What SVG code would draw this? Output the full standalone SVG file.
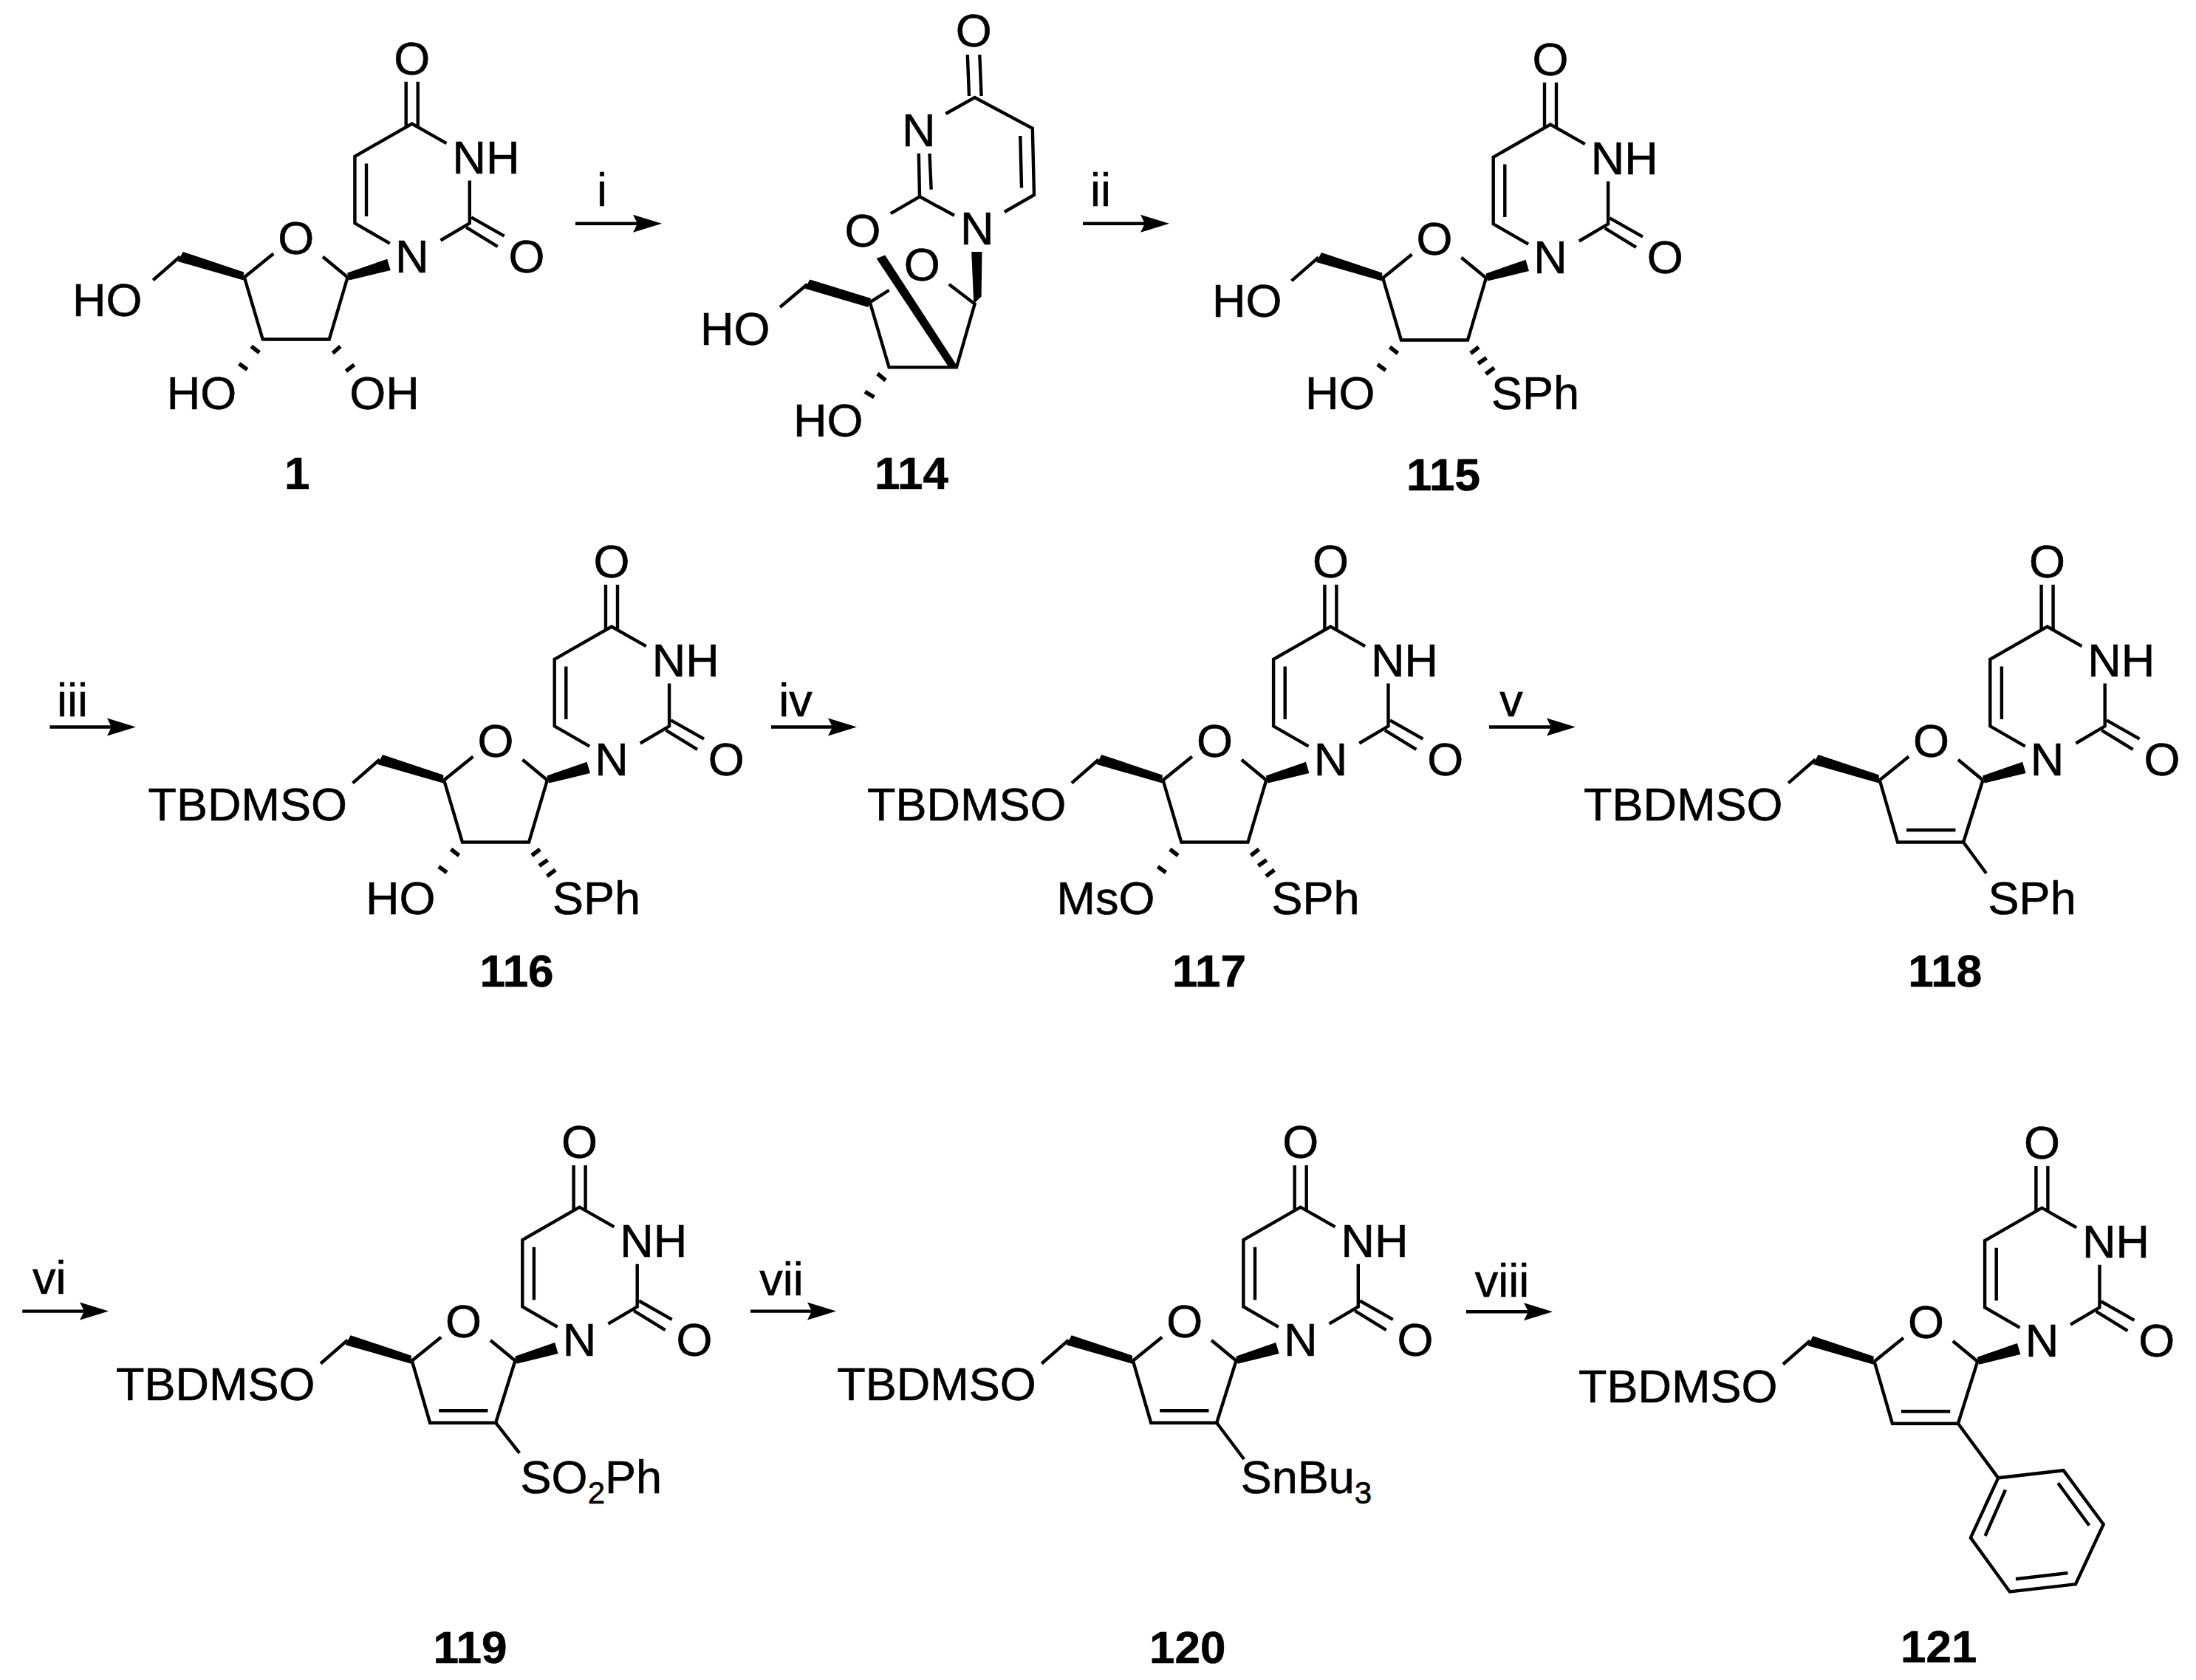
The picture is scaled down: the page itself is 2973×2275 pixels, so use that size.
<svg xmlns="http://www.w3.org/2000/svg" xmlns:xlink="http://www.w3.org/1999/xlink" width="2973" height="2275" viewBox="0 0 2973 2275">
<style>
.b{fill:none;stroke:#000;stroke-width:4.4}
.h{fill:none;stroke:#000;stroke-width:5.5}
.w{fill:#000;stroke:none}
text{font-family:"Liberation Sans",Arial,sans-serif;font-size:63px;fill:#000;stroke:#000;stroke-width:.6}
.m{text-anchor:middle}
.l{font-weight:bold;font-size:62px;text-anchor:middle}
.s{font-size:42px}
.a{fill:none;stroke:#000;stroke-width:4.4;marker-end:url(#ah)}
</style>
<defs>
<marker id="ah" markerUnits="userSpaceOnUse" markerWidth="40" markerHeight="26" refX="6" refY="13" orient="auto"><path d="M0,1 L39,13 L0,25 L6,13Z" fill="#000"/></marker>
<g id="core">
<path class="b" d="M-8,-235.7V-175M8,-235.7V-175M46.8,-152.4L0,-179L-77.3,-134.7V-44.2L-29.9,-16.8M-61.7,-125V-53.5M78.1,-101.9V-44.2L38.8,-21M80.4,-52.2L125,-26.9M73.6,-38.7L116,-12.6"/>
<path class="b" d="M-87,29L-120.6,1.3M-227,29L-187.5,-3M-314,1L-350.5,32.8"/>
<polygon class="w" points="-87.5,23 -33.5,4.2 -29,19.4 -85,33"/>
<polygon class="w" points="-227.7,22 -310,-5.5 -317,7.5 -228,33"/>
</g>
<path id="sat" class="b" d="M-227,28.5L-202,113H-112L-87,28.5"/>
<path id="unsat" class="b" d="M-227,28.5L-202.5,113H-113.5L-87,28.5M-190.5,96.5H-124.2"/>
<path id="hC3" class="h" d="M-217.5,122.5L-206.5,131M-234,146L-223,154"/>
<path id="hSPh" class="h" d="M-108,131L-97,122.5M-98,145L-86.5,137M-87.5,159L-76,150.5"/>
</defs>

<g id="connectors">
<path class="a" d="M779,302.7H863"/>
<path class="a" d="M1466,302.8H1550"/>
<path class="a" d="M67.4,984.5H151"/>
<path class="a" d="M1044,984.5H1127"/>
<path class="a" d="M2016,984.5H2100"/>
<path class="a" d="M30.2,1775.6H114"/>
<path class="a" d="M1016,1775.6H1099"/>
<path class="a" d="M1985,1776.3H2069"/>
<text class="m" x="815" y="279">i</text>
<text class="m" x="1490" y="279">ii</text>
<text class="m" x="98" y="970">iii</text>
<text class="m" x="1077" y="970">iv</text>
<text class="m" x="2046" y="970">v</text>
<text class="m" x="66.7" y="1752">vi</text>
<text class="m" x="1058" y="1754">vii</text>
<text class="m" x="2033.5" y="1755.5">viii</text>
</g>

<g id="c1">
<g transform="translate(557.7,346.5)">
<use href="#core"/><use href="#sat"/><use href="#hC3"/>
<path class="h" d="M-107.2,131.7L-96.9,122.5M-89.3,156.1L-78.1,147.3"/>
<text class="m" y="-246">O</text><text x="54.7" y="-111.5">NH</text><text class="m" y="22.5">N</text><text class="m" x="155.3" y="22">O</text><text class="m" x="-157" y="-3">O</text>
<text x="-459.7" y="81">HO</text><text x="-332" y="207.5">HO</text><text x="-84.5" y="207.5">OH</text>
</g>
<text class="l" x="402.3" y="662">1</text>
</g>

<g id="c114">
<path class="b" d="M1309.8,74L1312,130M1326.3,74L1328.6,130M1280.4,154L1319.6,132L1397.8,173.9L1400,264L1359.8,287M1381.3,184L1383,254.4M1243.8,207.8L1245,266.3L1292,291.8M1258.5,207.8L1260.7,256.6M1245,266.3L1205.8,289.2"/>
<polygon class="w" points="1186.6,350 1198.2,345.5 1296.4,496.5 1283.9,496.5"/>
<polygon class="w" points="1315.2,341 1329.5,341 1328.6,401.4 1318.3,411.5"/>
<path class="b" d="M1284.8,385L1319.6,411.5L1295,497.4H1203.6L1177.7,409.3L1203.6,393M1092.9,385L1056,416"/>
<polygon class="w" points="1179,404 1096.4,378.5 1089.7,390.8 1175.5,416"/>
<path class="h" d="M1188,506L1199,515M1171,530.4L1183.5,537.9"/>
<text class="m" x="1318.3" y="63">O</text><text class="m" x="1243.8" y="198">N</text><text class="m" x="1322.8" y="331">N</text><text class="m" x="1167.9" y="334">O</text><text class="m" x="1248.2" y="380">O</text>
<text x="948" y="466.5">HO</text><text x="1074" y="591">HO</text>
<text class="l" x="1234" y="662">114</text>
</g>

<g id="c115">
<g transform="translate(2099,347.5)">
<use href="#core"/><use href="#sat"/><use href="#hC3"/><use href="#hSPh"/>
<text class="m" y="-246">O</text><text x="54.7" y="-111.5">NH</text><text class="m" y="22.5">N</text><text class="m" x="155.3" y="22">O</text><text class="m" x="-157" y="-3">O</text>
<text x="-458" y="81">HO</text><text x="-332" y="206.5">HO</text><text x="-80" y="206.5">SPh</text>
</g>
<text class="l" x="1954" y="664">115</text>
</g>

<g id="c116">
<g transform="translate(828,1027.5)">
<use href="#core"/><use href="#sat"/><use href="#hC3"/><use href="#hSPh"/>
<text class="m" y="-246">O</text><text x="54.7" y="-111.5">NH</text><text class="m" y="22.5">N</text><text class="m" x="155.3" y="22">O</text><text class="m" x="-157" y="-3">O</text>
<text x="-627.5" y="83">TBDMSO</text><text x="-333" y="210">HO</text><text x="-80" y="210">SPh</text>
</g>
<text class="l" x="699.6" y="1336">116</text>
</g>

<g id="c117">
<g transform="translate(1801.4,1027.5)">
<use href="#core"/><use href="#sat"/><use href="#hC3"/><use href="#hSPh"/>
<text class="m" y="-246">O</text><text x="54.7" y="-111.5">NH</text><text class="m" y="22.5">N</text><text class="m" x="155.3" y="22">O</text><text class="m" x="-157" y="-3">O</text>
<text x="-627.5" y="83">TBDMSO</text><text x="-371" y="210">MsO</text><text x="-80" y="210">SPh</text>
</g>
<text class="l" x="1637" y="1336">117</text>
</g>

<g id="c118">
<g transform="translate(2771.6,1027.5)">
<use href="#core"/><use href="#unsat"/>
<path class="b" d="M-113.5,113L-82.6,155"/>
<text class="m" y="-246">O</text><text x="54.7" y="-111.5">NH</text><text class="m" y="22.5">N</text><text class="m" x="155.3" y="22">O</text><text class="m" x="-157" y="-3">O</text>
<text x="-627.5" y="83">TBDMSO</text><text x="-80" y="210">SPh</text>
</g>
<text class="l" x="2633.2" y="1336">118</text>
</g>

<g id="c119">
<g transform="translate(784.6,1813.7)">
<use href="#core"/><use href="#unsat"/>
<path class="b" d="M-113.5,113L-81.4,154"/>
<text class="m" y="-246">O</text><text x="54.7" y="-111.5">NH</text><text class="m" y="22.5">N</text><text class="m" x="155.3" y="22">O</text><text class="m" x="-157" y="-3">O</text>
<text x="-627.5" y="82">TBDMSO</text><text x="-80" y="208">SO<tspan class="s" dy="14">2</tspan><tspan dy="-14">Ph</tspan></text>
</g>
<text class="l" x="636.5" y="2251.8">119</text>
</g>

<g id="c120">
<g transform="translate(1760.7,1813.7)">
<use href="#core"/><use href="#unsat"/>
<path class="b" d="M-113.5,113L-76.5,162.3"/>
<text class="m" y="-246">O</text><text x="54.7" y="-111.5">NH</text><text class="m" y="22.5">N</text><text class="m" x="155.3" y="22">O</text><text class="m" x="-157" y="-3">O</text>
<text x="-627.5" y="82">TBDMSO</text><text x="-81" y="208">SnBu<tspan class="s" dy="14">3</tspan></text>
</g>
<text class="l" x="1607.7" y="2251.8">120</text>
</g>

<g id="c121">
<g transform="translate(2764.4,1814.7)">
<use href="#core"/><use href="#unsat"/>
<path class="b" d="M-113.5,113L-59.2,186.6L29.2,176.5L83.3,249.5L45.6,330.6L-43.5,340.8L-96.5,267.7L-59.2,186.6M-49.4,202.8L-76.8,265.2M21.9,193.7L64,251M35.1,315.4L-35.4,323.5"/>
<text class="m" y="-246">O</text><text x="54.7" y="-111.5">NH</text><text class="m" y="22.5">N</text><text class="m" x="155.3" y="22">O</text><text class="m" x="-157" y="-3">O</text>
<text x="-627.5" y="84">TBDMSO</text>
</g>
<text class="l" x="2624.8" y="2250.8">121</text>
</g>
</svg>
